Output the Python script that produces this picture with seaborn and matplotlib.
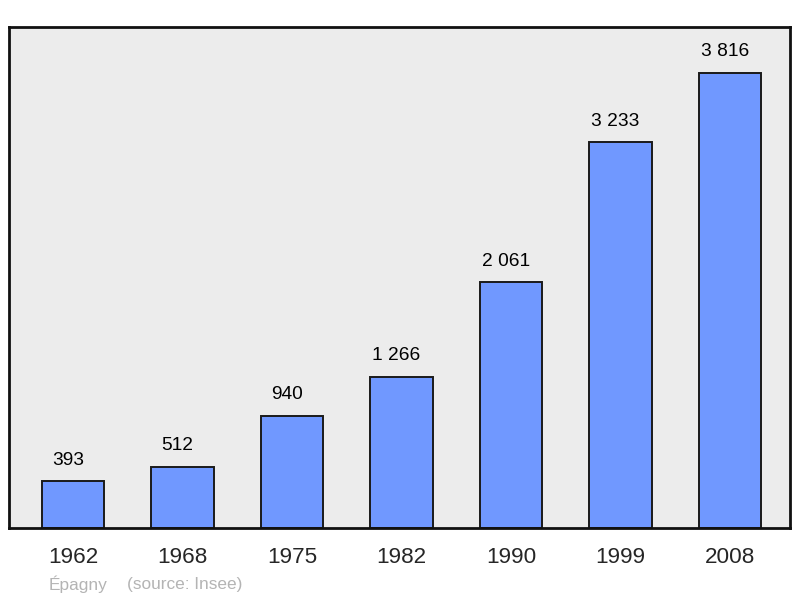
import matplotlib
matplotlib.use("Agg")
import matplotlib.pyplot as plt
import seaborn as sns
import pandas as pd

years = ["1962", "1968", "1975", "1982", "1990", "1999", "2008"]
population = [393, 512, 940, 1266, 2061, 3233, 3816]
value_labels = ["393", "512", "940", "1 266", "2 061", "3 233", "3 816"]
town = "Épagny"
source = "(source: Insee)"

sns.set_style("white")
plt.rcParams["font.family"] = ["Liberation Sans", "DejaVu Sans"]

df = pd.DataFrame({"year": years, "population": population})

fig = plt.figure(figsize=(8, 5.98), dpi=100)
ax = fig.add_axes([9 / 800, 1 - 528 / 598, 781 / 800, 501 / 598])
ax.set_facecolor("#ececec")

sns.barplot(data=df, x="year", y="population", color="#7098ff", saturation=1,
            width=0.57, edgecolor="#1a1a1a", linewidth=1.4, ax=ax)

# value labels sit a little left of the bar centre in the original
for i, (v, lab) in enumerate(zip(population, value_labels)):
	ax.annotate(lab, (i, v), xytext=(-3.5, 9), textcoords="offset points",
	            ha="center", va="bottom", fontsize=13.8, color="black")

ax.set_xlim(-0.585, 6.55)
ax.set_ylim(0, max(population) * 1.1)
ax.set_yticks([])
ax.set_xlabel("")
ax.set_ylabel("")
ax.tick_params(axis="x", length=0, labelsize=16.2, pad=14)
for s in ax.spines.values():
	s.set_linewidth(2)
	s.set_color("#111111")

fig.text(78 / 800, 1 - 584 / 598, town, ha="center", va="center",
         fontsize=12.4, color="#b4b4b4")
fig.text(127 / 800, 1 - 584 / 598, source, ha="left", va="center",
         fontsize=12.4, color="#b4b4b4")

fig.savefig("out.png", dpi=100, facecolor="white")
